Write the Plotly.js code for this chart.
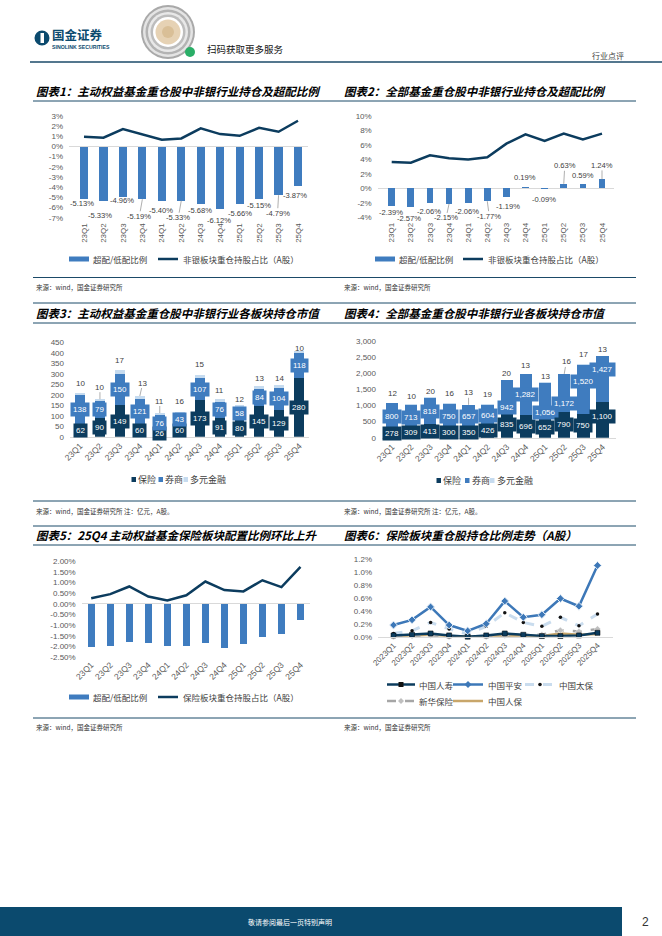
<!DOCTYPE html>
<html>
<head>
<meta charset="utf-8">
<script src="https://cdn.plot.ly/plotly-3.0.1.min.js"></script>
<style>
html,body{margin:0;padding:0;background:#ffffff;}
#page{width:662px;height:936px;}
</style>
</head>
<body>
<div id="page"></div>
<script>
// ---------------- data ----------------
const quarters = ['23Q1','23Q2','23Q3','23Q4','24Q1','24Q2','24Q3','24Q4','25Q1','25Q2','25Q3','25Q4'];
const quartersFull = ['2023Q1','2023Q2','2023Q3','2023Q4','2024Q1','2024Q2','2024Q3','2024Q4','2025Q1','2025Q2','2025Q3','2025Q4'];

// 图表1 主动权益基金（%）
const activeOverweight = [-5.13,-5.33,-4.96,-5.19,-5.40,-5.33,-5.68,-6.12,-5.66,-5.15,-4.79,-3.87];
const activeNonBankShare = [0.95,0.86,1.71,1.22,0.66,0.79,1.78,1.22,1.05,1.84,1.45,2.53];
// 图表2 全部基金（%）
const allOverweight = [-2.39,-2.57,-2.06,-2.15,-2.06,-1.77,-1.19,0.19,-0.09,0.63,0.59,1.24];
const allNonBankShare = [3.64,3.55,4.56,4.15,4.00,4.29,6.18,7.47,6.54,7.56,6.77,7.56];
// 图表3 主动权益基金持仓市值（亿元）
const activeInsurance = [62,90,149,60,26,60,173,91,80,145,129,280];
const activeBroker = [138,79,150,121,76,43,107,76,58,84,104,118];
const activeDiversified = [10,10,17,13,11,16,15,11,12,13,14,10];
// 图表4 全部基金持仓市值（亿元）
const allInsurance = [278,309,413,300,350,426,835,696,652,790,750,1100];
const allBroker = [800,713,818,750,657,604,942,1282,1056,1172,1520,1427];
const allDiversified = [12,10,20,16,13,19,20,13,13,16,17,13];
// 图表5 保险板块（%）
const insOverweight = [-2.02,-1.98,-1.79,-1.84,-1.98,-1.98,-1.84,-2.07,-1.88,-1.56,-1.42,-0.76];
const insShare = [0.26,0.45,0.81,0.34,0.16,0.40,1.04,0.64,0.58,1.10,0.78,1.73];
// 图表6 个股持仓比例（%）
const chinaLife = [0.02,0.03,0.05,0.02,0.00,0.02,0.05,0.03,0.01,0.01,0.02,0.06];
const pingAn = [0.18,0.26,0.46,0.18,0.09,0.20,0.55,0.30,0.34,0.59,0.47,1.10];
const cpic = [0.05,0.09,0.22,0.12,0.04,0.16,0.37,0.22,0.16,0.30,0.17,0.35];
const newChinaLife = [0.00,0.01,0.02,0.00,0.00,0.00,0.02,0.02,0.03,0.10,0.08,0.12];
const picc = [0.00,0.01,0.03,0.01,0.00,0.00,0.01,0.01,0.01,0.05,0.03,0.04];

const seriesNames = {
  over: '超配/低配比例',
  nonBank: '非银板块重仓持股占比（A股）',
  ins: '保险板块重仓持股占比（A股）',
  insurance: '保险', broker: '券商', diversified: '多元金融',
  life: '中国人寿', pingan: '中国平安', cpic: '中国太保', ncl: '新华保险', picc: '中国人保'
};

// ---------------- styling / layout helpers ----------------
const W = 662, H = 936;
const X = px => px / W;
const Y = py => 1 - py / H;

const NAVY = '#0c3c5e';
const BLUE = '#3f7cbf';
const LIGHT = '#c6dbef';
const TEAL = '#1b4a68';
const SANS = '"Liberation Sans", Arial, "Noto Sans CJK SC", sans-serif';
const CJK = '"Noto Sans CJK SC", "Liberation Sans", sans-serif';
const TICKFONT = {family: SANS, size: 8, color: '#595959'};
const LABELFONT = {family: SANS, size: 7.6, color: '#404040'};

function ticks(min, max, step, dec, suffix, thousands) {
  const vals = [], text = [];
  const n = Math.round((max - min) / step);
  for (let k = 0; k <= n; k++) {
    const v = +(min + k * step).toFixed(6);
    vals.push(v);
    text.push((thousands ? v.toLocaleString('en-US') : v.toFixed(dec)) + (suffix || ''));
  }
  return {vals, text};
}
function catAxis(l, r, anchor, angle, opts) {
  return Object.assign({domain: [X(l), X(r)], anchor, type: 'category', tickangle: angle,
    tickfont: TICKFONT, showgrid: false, zeroline: false, showline: false, ticks: '',
    fixedrange: true, automargin: false}, opts || {});
}
function valAxis(top, bottom, anchor, range, t, opts) {
  return Object.assign({domain: [Y(bottom), Y(top)], anchor, range, tickmode: 'array',
    tickvals: t.vals, ticktext: t.text, tickfont: TICKFONT, showgrid: false, zeroline: false,
    showline: false, ticks: '', ticklabelstandoff: 5, fixedrange: true, automargin: false}, opts || {});
}
const ZL = {zeroline: true, zerolinecolor: '#d9d9d9', zerolinewidth: 1};
const BL = {showline: true, linecolor: '#d9d9d9', linewidth: 1};
const TF85 = {tickfont: Object.assign({}, TICKFONT, {size: 8.5})};

const layout = {
  width: W, height: H, margin: {l: 0, r: 0, t: 0, b: 0},
  paper_bgcolor: '#ffffff', plot_bgcolor: 'rgba(0,0,0,0)',
  barmode: 'stack', showlegend: false,
  font: {family: SANS, size: 8, color: '#404040'},
  xaxis: catAxis(69, 308, 'y', -90, {ticklabelstandoff: 3}),
  yaxis: valAxis(116, 217.7, 'x', [-7, 3], ticks(-7, 3, 1, 0, '%'), ZL),
  xaxis2: catAxis(377.7, 614, 'y2', -90, {ticklabelstandoff: 3}),
  yaxis2: valAxis(116, 217.3, 'x2', [-4, 10], ticks(-4, 10, 2, 0, '%'), ZL),
  xaxis3: catAxis(70, 309.3, 'y3', -45, Object.assign({}, TF85, BL)),
  yaxis3: valAxis(342.3, 436.7, 'x3', [0, 450], ticks(0, 450, 50, 0, '')),
  xaxis4: catAxis(382, 616, 'y4', -45, Object.assign({}, TF85, BL)),
  yaxis4: valAxis(341, 437.7, 'x4', [0, 3000], ticks(0, 3000, 500, 0, '', true)),
  xaxis5: catAxis(81.7, 310, 'y5', -45, TF85),
  yaxis5: valAxis(561, 657.3, 'x5', [-2.5, 2], ticks(-2.5, 2, 0.5, 2, '%'), ZL),
  xaxis6: catAxis(378, 613, 'y6', -45, BL),
  yaxis6: valAxis(559, 636.7, 'x6', [0, 1.2], ticks(0, 1.2, 0.2, 1, '%')),
  annotations: [],
  shapes: []
};
const A = layout.annotations, S = layout.shapes;

// ---------------- traces ----------------
const data = [];
function bar(x, y, xa, ya, color, width, name) {
  data.push({type: 'bar', x, y, xaxis: xa, yaxis: ya, width, name, marker: {color, line: {width: 0}}, hoverinfo: 'x+y+name'});
}
function line(x, y, xa, ya, lineStyle, name, marker) {
  data.push({type: 'scatter', mode: marker ? 'lines+markers' : 'lines', x, y, xaxis: xa, yaxis: ya, name,
    line: lineStyle, marker: marker || {}, cliponaxis: false});
}
// chart 1
bar(quarters, activeOverweight, 'x', 'y', BLUE, 0.42, seriesNames.over);
line(quarters, activeNonBankShare, 'x', 'y', {color: NAVY, width: 2.5}, seriesNames.nonBank);
// chart 2
bar(quarters, allOverweight, 'x2', 'y2', BLUE, 0.35, seriesNames.over);
line(quarters, allNonBankShare, 'x2', 'y2', {color: NAVY, width: 2.5}, seriesNames.nonBank);
// chart 3
bar(quarters, activeInsurance, 'x3', 'y3', NAVY, 0.5, seriesNames.insurance);
bar(quarters, activeBroker, 'x3', 'y3', BLUE, 0.5, seriesNames.broker);
bar(quarters, activeDiversified, 'x3', 'y3', LIGHT, 0.5, seriesNames.diversified);
// chart 4
bar(quarters, allInsurance, 'x4', 'y4', NAVY, 0.65, seriesNames.insurance);
bar(quarters, allBroker, 'x4', 'y4', BLUE, 0.65, seriesNames.broker);
bar(quarters, allDiversified, 'x4', 'y4', LIGHT, 0.65, seriesNames.diversified);
// chart 5
bar(quarters, insOverweight, 'x5', 'y5', BLUE, 0.35, seriesNames.over);
line(quarters, insShare, 'x5', 'y5', {color: NAVY, width: 2.5}, seriesNames.ins);
// chart 6
line(quartersFull, picc, 'x6', 'y6', {color: '#c8a66a', width: 2.5}, seriesNames.picc);
line(quartersFull, newChinaLife, 'x6', 'y6', {color: '#a6a6a6', width: 2.5, dash: 'dash'}, seriesNames.ncl,
  {symbol: 'diamond', size: 5, color: '#bfbfbf', line: {color: '#ffffff', width: 0.5}});
line(quartersFull, cpic, 'x6', 'y6', {color: '#c9dcee', width: 3, dash: 'dash'}, seriesNames.cpic,
  {symbol: 'circle', size: 3.5, color: '#111111'});
line(quartersFull, chinaLife, 'x6', 'y6', {color: NAVY, width: 2.5}, seriesNames.life,
  {symbol: 'square', size: 5, color: NAVY, line: {color: '#000000', width: 0.5}});
line(quartersFull, pingAn, 'x6', 'y6', {color: '#3d78b8', width: 2.5}, seriesNames.pingan,
  {symbol: 'diamond', size: 6, color: '#3d78b8', line: {color: '#e3edf7', width: 1}});

// ---------------- data labels ----------------
const pct = v => v.toFixed(2) + '%';
const thou = v => v.toLocaleString('en-US');
// chart 1 label offsets (px) from the bar end
const c1DX = [-2,-3,-1,-3,-1,-3,-1,-1,0,0,-1,-3];
const c1DY = [5,15,4,17,9,17,6,12,9,7,18,10];
const c1Leader = [0,0,0,1,0,1,0,0,0,0,1,0];
// chart 2 label offsets (px)
const c2DX = [-1,-2,-1,-3,-1,2,2,-1,-1,1,0,0];
const c2DY = [7,12,8,14,8,15,10,-9,10,-18,-9,-14];
const c2Leader = [0,0,0,1,0,1,0,0,0,1,0,1];
function endLabels(cats, vals, xa, ya, dx, dy, leader) {
  cats.forEach((c, i) => {
    A.push({xref: xa, yref: ya, x: c, y: vals[i], text: pct(vals[i]), showarrow: true, arrowhead: 0,
      arrowwidth: 0.7, arrowcolor: leader[i] ? '#8c8c8c' : 'rgba(0,0,0,0)', standoff: 0,
      ax: dx[i], ay: dy[i], font: LABELFONT, borderpad: 0});
  });
}
endLabels(quarters, activeOverweight, 'x', 'y', c1DX, c1DY, c1Leader);
endLabels(quarters, allOverweight, 'x2', 'y2', c2DX, c2DY, c2Leader);

// stacked segment labels
const c3InsDY = [0,0,0,0,0,0,0,0,0,0,0,0];
const c3BroDY = [0,0,0,0,0,0,0,0,0,0,0,0];
const c4InsDY = [0,0,0,0,0,0,0,0,0,0,0,-3];
const c4BroDY = [1,1,0,1,1,1,12,0,13,10,-8,-10];
const c3TopDY = [-9,-12,-10,-13,-12,-10,-10,-9,-6,-7,-6,-3];
const c3TopDX = [0,0,0,3,0,0,0,0,0,0,0,0];
const c3Leader = [0,1,0,1,1,0,0,0,0,0,0,0];
const c4TopDY = [-9,-8,-6,-10,-12,-9,-6,-8,-6,-12,-9,-6];
const c4TopDX = [0,0,0,0,0,0,0,0,0,2,0,0];
const c4Leader = [0,0,0,0,1,0,0,0,0,1,0,0];
const SEGFONT = {family: SANS, size: 8, color: '#ffffff'};
function stackLabels(cats, ins, bro, div, xa, ya, fmt, insDY, broDY, topDX, topDY, leader) {
  cats.forEach((c, i) => {
    A.push({xref: xa, yref: ya, x: c, y: ins[i] / 2, text: fmt(ins[i]), showarrow: true, arrowcolor: 'rgba(0,0,0,0)',
      ax: 0, ay: insDY[i], bgcolor: NAVY, borderpad: 2, font: SEGFONT});
    A.push({xref: xa, yref: ya, x: c, y: ins[i] + bro[i] / 2, text: fmt(bro[i]), showarrow: true, arrowcolor: 'rgba(0,0,0,0)',
      ax: 0, ay: broDY[i], bgcolor: BLUE, borderpad: 2, font: SEGFONT});
    A.push({xref: xa, yref: ya, x: c, y: ins[i] + bro[i] + div[i], text: fmt(div[i]), showarrow: true, arrowhead: 0,
      arrowwidth: 0.7, arrowcolor: leader[i] ? '#8c8c8c' : 'rgba(0,0,0,0)', standoff: 0,
      ax: topDX[i], ay: topDY[i], font: Object.assign({}, LABELFONT, {size: 8}), borderpad: 0});
  });
}
stackLabels(quarters, activeInsurance, activeBroker, activeDiversified, 'x3', 'y3', v => String(v), c3InsDY, c3BroDY, c3TopDX, c3TopDY, c3Leader);
stackLabels(quarters, allInsurance, allBroker, allDiversified, 'x4', 'y4', thou, c4InsDY, c4BroDY, c4TopDX, c4TopDY, c4Leader);

// ---------------- page furniture ----------------
function txt(x, y, text, font, xanchor) {
  A.push({xref: 'paper', yref: 'paper', x: X(x), y: Y(y), text, showarrow: false,
    xanchor: xanchor || 'left', yanchor: 'middle', font, borderpad: 0});
}
function hline(x0, x1, y, color, width) {
  S.push({type: 'line', xref: 'paper', yref: 'paper', x0: X(x0), x1: X(x1), y0: Y(y), y1: Y(y),
    line: {color, width}});
}
function rect(x0, y0, x1, y1, fill, lineColor) {
  S.push({type: 'rect', xref: 'paper', yref: 'paper', x0: X(x0), x1: X(x1), y0: Y(y1), y1: Y(y0),
    fillcolor: fill, line: {width: lineColor ? 1 : 0, color: lineColor || fill}});
}
function circle(cx, cy, r, fill) {
  S.push({type: 'circle', xref: 'paper', yref: 'paper', x0: X(cx - r), x1: X(cx + r), y0: Y(cy + r), y1: Y(cy - r),
    fillcolor: fill, line: {width: 0}});
}
function poly(pts, fill) {
  const d = pts.map((p, i) => (i ? 'L' : 'M') + X(p[0]) + ',' + Y(p[1])).join(' ') + ' Z';
  S.push({type: 'path', xref: 'paper', yref: 'paper', path: d, fillcolor: fill, line: {width: 0}});
}

// header
circle(42, 38, 7.5, '#0b4a6e');
rect(40.5, 33, 44, 43, '#ffffff');
txt(51, 35, '<b>国金证券</b>', {family: CJK, size: 12.5, color: '#0b4a6e'});
txt(51, 46.5, '<b>SINOLINK SECURITIES</b>', {family: SANS, size: 5.2, color: '#0b4a6e'});
// mini-program code (decorative)
[[27, '#a9a9a9'], [25, '#e4e4e4'], [22.5, '#b3b3b3'], [20, '#e8e8e8'], [17.5, '#bdbdbd'], [15, '#ffffff'], [12.5, '#e6d2b4']]
  .forEach(c => circle(168, 32, c[0], c[1]));
circle(168, 32, 6, '#d9bf97');
circle(190, 52, 5, '#2aae67');
txt(206, 49, '扫码获取更多服务', {family: CJK, size: 9.5, color: '#111111'});
txt(625, 55, '行业点评', {family: CJK, size: 8, color: '#444444'}, 'right');
hline(30, 662, 62, TEAL, 1.5);

// section titles and sources
const TITLEFONT = {family: CJK, size: 11.5, color: '#000000', weight: 'bold', style: 'italic'};
const SRCFONT = {family: CJK, size: 6.5, color: '#333333'};
const titles = [
  [35, 91, '图表1：主动权益基金重仓股中非银行业持仓及超配比例'],
  [343, 91, '图表2：全部基金重仓股中非银行业持仓及超配比例'],
  [35, 313, '图表3：主动权益基金重仓股中非银行业各板块持仓市值'],
  [343, 313, '图表4：全部基金重仓股中非银行业各板块持仓市值'],
  [35, 535, '图表5：25Q4 主动权益基金保险板块配置比例环比上升'],
  [343, 535, '图表6：保险板块重仓股持仓比例走势（A股）']
];
titles.forEach(t => txt(t[0], t[1], t[2], TITLEFONT));
const src1 = '来源：wind，国金证券研究所';
const src2 = '来源：wind，国金证券研究所 注：亿元，A股。';
txt(35, 287, src1, SRCFONT); txt(343, 287, src1, SRCFONT);
txt(35, 511, src2, SRCFONT); txt(343, 511, src2, SRCFONT);
txt(35, 727, src1, SRCFONT); txt(343, 727, src1, SRCFONT);
[101, 277.5, 303, 323, 501, 526, 545, 718].forEach(y => hline(33, 636, y, TEAL, 1));

// footer
rect(0, 907, 622, 936, '#0b4a6e');
txt(290, 921.5, '敬请参阅最后一页特别声明', {family: CJK, size: 7, color: '#ffffff'}, 'center');
txt(645, 921.5, '2', {family: SANS, size: 12, color: '#333333'}, 'center');

// ---------------- legends (drawn) ----------------
const LEGFONT = {family: CJK, size: 8.5, color: '#404040'};
const LEGFONT2 = {family: CJK, size: 9, color: '#404040'};
function legSwatchRect(x0, x1, yc, h, color) { rect(x0, yc - h / 2, x1, yc + h / 2, color); }
function legSwatchLine(x0, x1, yc, color, width, dash) {
  S.push({type: 'line', xref: 'paper', yref: 'paper', x0: X(x0), x1: X(x1), y0: Y(yc), y1: Y(yc),
    line: {color, width, dash: dash || 'solid'}});
}
// chart 1
legSwatchRect(69, 89, 259, 5, BLUE); txt(92, 259, seriesNames.over, LEGFONT);
legSwatchLine(158, 178, 259, NAVY, 2.5); txt(182, 259, seriesNames.nonBank, LEGFONT);
// chart 2
legSwatchRect(375, 395, 259, 5, BLUE); txt(398, 259, seriesNames.over, LEGFONT);
legSwatchLine(463, 483, 259, NAVY, 2.5); txt(487, 259, seriesNames.nonBank, LEGFONT);
// chart 3
legSwatchRect(131.5, 136, 479.5, 5, NAVY); txt(137, 479.5, seriesNames.insurance, LEGFONT2);
legSwatchRect(158.5, 163, 479.5, 5, BLUE); txt(164, 479.5, seriesNames.broker, LEGFONT2);
legSwatchRect(183.5, 188, 479.5, 5, LIGHT); txt(189, 479.5, seriesNames.diversified, LEGFONT2);
// chart 4
legSwatchRect(436.5, 441, 480.5, 5, NAVY); txt(442, 480.5, seriesNames.insurance, LEGFONT2);
legSwatchRect(465, 469.5, 480.5, 5, BLUE); txt(470.5, 480.5, seriesNames.broker, LEGFONT2);
legSwatchRect(490, 494.5, 480.5, 5, LIGHT); txt(495.5, 480.5, seriesNames.diversified, LEGFONT2);
// chart 5
legSwatchRect(69, 89, 697, 5, BLUE); txt(92, 697, seriesNames.over, LEGFONT);
legSwatchLine(158, 178, 697, NAVY, 2.5); txt(182, 697, seriesNames.ins, LEGFONT);
// chart 6
legSwatchLine(387, 415, 684.5, NAVY, 2.5); rect(398.5, 682, 403.5, 687, '#111111'); txt(418, 684.5, seriesNames.life, LEGFONT);
legSwatchLine(453, 483, 684.5, '#3d78b8', 2.5); poly([[468, 681], [471.5, 684.5], [468, 688], [464.5, 684.5]], '#3d78b8'); txt(487, 684.5, seriesNames.pingan, LEGFONT);
legSwatchLine(525, 555, 684.5, '#c9dcee', 3, 'dash'); circle(540, 684.5, 1.8, '#111111'); txt(558, 684.5, seriesNames.cpic, LEGFONT);
legSwatchLine(387, 415, 701, '#a6a6a6', 2.5, 'dash'); poly([[401, 698], [404, 701], [401, 704], [398, 701]], '#bfbfbf'); txt(418, 701, seriesNames.ncl, LEGFONT);
legSwatchLine(453, 483, 701, '#c8a66a', 2.5); txt(487, 701, seriesNames.picc, LEGFONT);

Plotly.newPlot('page', data, layout, {displayModeBar: false, staticPlot: true});
</script>
</body>
</html>
